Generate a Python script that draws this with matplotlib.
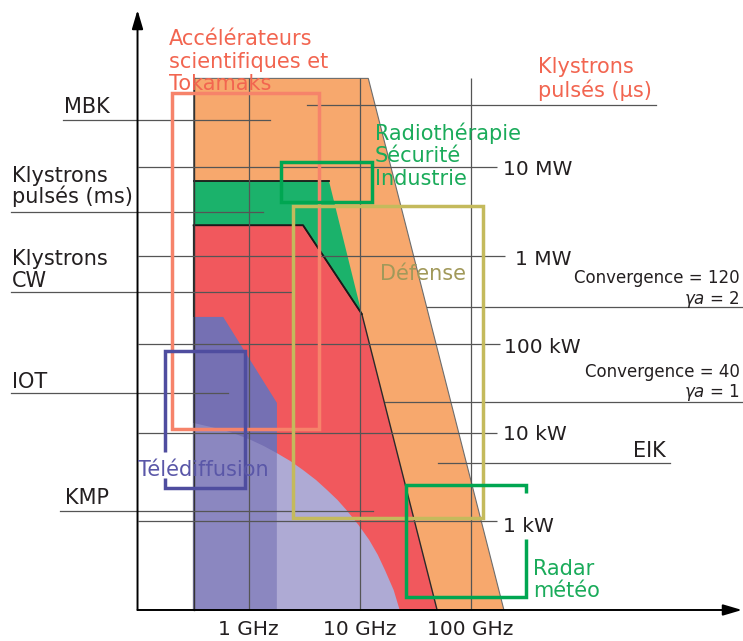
import numpy as np
import matplotlib.pyplot as plt
from matplotlib.patches import Polygon
from matplotlib.transforms import Affine2D

plt.rcParams['font.family'] = ['DejaVu Sans']
plt.rcParams['mathtext.fontset'] = 'dejavusans'

W, H = 743, 641
INK = '#231f20'

# --- domaines des tubes (fréquence en GHz, puissance en kW) ---
klys_us_freq = [0.32, 0.32, 12, 200]
klys_us_power = [0.1, 1e5, 1e5, 0.1]
klys_ms_freq = [0.32, 0.32, 5.3, 10.5]
klys_ms_power = [219, 7000, 7000, 219]
klys_cw_freq = [0.32, 0.32, 3.1, 10.5, 50]
klys_cw_power = [0.1, 2200, 2200, 219, 0.1]
iot_freq = [0.32, 0.32, 0.59, 1.8, 1.8]
iot_power = [0.1, 203, 203, 21.7, 0.1]
kmp_freq = [0.32, 0.32, 0.59, 0.81, 1.05, 1.37, 1.8, 2.38, 3.1, 4.06, 5.1,
            6.32, 7.6, 9.8, 12.2, 14.6, 17, 20.3, 23]
kmp_power = [0.1, 12.9, 10.8, 9.44, 8.3, 7.1, 5.9, 4.8, 3.8, 2.93, 2.26,
             1.75, 1.35, 0.91, 0.62, 0.42, 0.28, 0.168, 0.1]

# --- applications : fmin, fmax (GHz), pmin, pmax (kW) ---
accel_box = [0.205, 4.32, 11.0, 68400]
radio_box = [1.96, 12.97, 4030, 11380]
defense_box = [2.52, 130, 1.10, 3620]
tv_box = [0.177, 0.93, 2.37, 83.8]
tv_gap = [3.10, 6.08]
radar_box = [26.2, 316, 0.14, 2.58]
radar_gap = [0.634, 2.09]

# --- axes ---
freq_ticks = [1, 10, 100]
freq_labels = ['1 GHz', '10 GHz', '100 GHz']
power_ticks = [1e4, 1e3, 100, 10, 1]
power_labels = ['10 MW', '1 MW', '100 kW', '10 kW', '1 kW']

fig = plt.figure(figsize=(W / 100, H / 100), dpi=100)
ax = fig.add_axes([0, 0, 1, 1])
ax.set_xscale('log')
ax.set_yscale('log')
ax.set_xlim(10 ** -2.239, 10 ** 4.455)
ax.set_ylim(10 ** -1.350, 10 ** 5.885)
ax.axis('off')

# pixel -> figure (pour textes et traits de rappel)
pix = Affine2D().scale(1 / W, -1 / H).translate(0, 1) + fig.transFigure


def fx(px):
    return 10 ** ((px - 248.5) / 111)


def py(px):
    return 10 ** ((521.4 - px) / 88.6)


# zones colorées
ax.add_patch(Polygon(list(zip(klys_us_freq, klys_us_power)), closed=True,
                     fc='#f7a86d', ec='#6d6d6d', lw=0.8, zorder=1))
ax.add_patch(Polygon(list(zip(klys_ms_freq, klys_ms_power)), closed=True,
                     fc='#1bb26b', ec='none', zorder=2))
ax.plot(klys_ms_freq[1:3], klys_ms_power[1:3], color='#1a1a1a', lw=1.3, zorder=2.5)
ax.add_patch(Polygon(list(zip(klys_cw_freq, klys_cw_power)), closed=True,
                     fc='#f1585d', ec='#2a2a2a', lw=1.0, zorder=3))
ax.plot(klys_cw_freq[1:4], klys_cw_power[1:4], color='#1a1a1a', lw=1.3, zorder=3.5)
ax.add_patch(Polygon(list(zip(iot_freq, iot_power)), closed=True,
                     fc='#7570b3', ec='none', zorder=4))
ax.add_patch(Polygon(list(zip(kmp_freq, kmp_power)), closed=True,
                     fc='#aeaad4', ec='none', zorder=5))
ax.add_patch(Polygon(list(zip(iot_freq, iot_power)), closed=True,
                     fc='#7570b3', ec='none', alpha=0.6, zorder=5.5))
ax.plot([0.32, 0.32], [0.1, 1e5], color='#333333', lw=1.0, zorder=6)

# grille
ax.vlines(freq_ticks, 0.1, 1e5, color='#555555', lw=0.9, zorder=6)
grid_end = [497, 505, 500, 497, 497]
for p, xe in zip(power_ticks, grid_end):
    ax.hlines(p, 0.1, fx(xe), color='#555555', lw=0.9, zorder=6)

# traits de rappel (pixels)
leaders = [((63, 270), 120), ((11, 263), 212), ((11, 291), 292), ((11, 228), 393),
           ((60, 373), 511), ((307, 656), 105), ((438, 670), 463),
           ((427, 743), 307), ((385, 743), 402)]
for (x0, x1), y in leaders:
    ax.plot([x0, x1], [y, y], color='#555555', lw=0.9, transform=pix, zorder=6)

# axes fléchés
arrow = dict(arrowstyle='-|>,head_length=0.95,head_width=0.28', color='black',
             lw=1.4, shrinkA=0, shrinkB=0, mutation_scale=12)
ax.annotate('', xy=(0.1, py(10)), xytext=(0.1, 0.1), arrowprops=arrow, zorder=7)
ax.annotate('', xy=(fx(742), 0.1), xytext=(0.1, 0.1), arrowprops=arrow, zorder=7)


# cadres des applications
def box(b, color):
    f0, f1, p0, p1 = b
    ax.add_patch(Polygon([(f0, p0), (f0, p1), (f1, p1), (f1, p0)], closed=True,
                         fill=False, ec=color, lw=2.5, joinstyle='miter', zorder=8))


box(accel_box, '#f6836a')
box(radio_box, '#00a651')
box(defense_box, '#c4ba5c')
f0, f1, p0, p1 = tv_box
ax.plot([f0, f0, f1, f1, f0, f0], [tv_gap[1], p1, p1, p0, p0, tv_gap[0]],
        color='#4f4d9f', lw=2.5, solid_joinstyle='miter', solid_capstyle='butt', zorder=8)
f0, f1, p0, p1 = radar_box
ax.plot([f1, f1, f0, f0, f1, f1], [radar_gap[0], p0, p0, p1, p1, radar_gap[1]],
        color='#00a651', lw=2.5, solid_joinstyle='miter', solid_capstyle='butt', zorder=8)


def label(x, y0, lines, dy=22.5, size=15, color=INK, **kw):
    for i, s in enumerate(lines):
        ax.text(x, y0 + i * dy, s, transform=pix, va='baseline',
                fontsize=size, color=color, zorder=9, **kw)


# étiquettes
label(64, 113, ['MBK'])
label(12, 182, ['Klystrons', 'pulsés (ms)'], dy=21)
label(12, 265, ['Klystrons', 'CW'], dy=22)
label(12, 388, ['IOT'])
label(65, 504, ['KMP'])
label(633, 457, ['EIK'])
label(169, 45, ['Accélérateurs', 'scientifiques et', 'Tokamaks'], color='#f26550')
label(538, 73, ['Klystrons', 'pulsés (µs)'], dy=24, color='#f26550')
label(375, 140, ['Radiothérapie', 'Sécurité', 'Industrie'], color='#1aab5a')
label(380, 280, ['Défense'], color='#a1995a')
label(138, 476, ['Télédiffusion'], color='#5a57a8')
label(533, 575, ['Radar', 'météo'], dy=22, color='#1aab5a')

# graduations
tick_pos = [(503, 175), (515, 265), (504, 353), (503, 440), (503, 532)]
for (x, y), s in zip(tick_pos, power_labels):
    ax.text(x, y, s, transform=pix, ha='left', va='baseline', fontsize=14.5,
            color=INK, zorder=9)
for f, s in zip(freq_ticks, freq_labels):
    ax.text(f, py(635), s, ha='center', va='baseline', fontsize=14.5, color=INK)

label(740, 283, ['Convergence = 120'], size=12, ha='right')
label(740, 304, [r'$\gamma a$ = 2'], size=12, ha='right')
label(740, 377, ['Convergence = 40'], size=12, ha='right')
label(740, 397, [r'$\gamma a$ = 1'], size=12, ha='right')

fig.savefig('out.png', dpi=100)
